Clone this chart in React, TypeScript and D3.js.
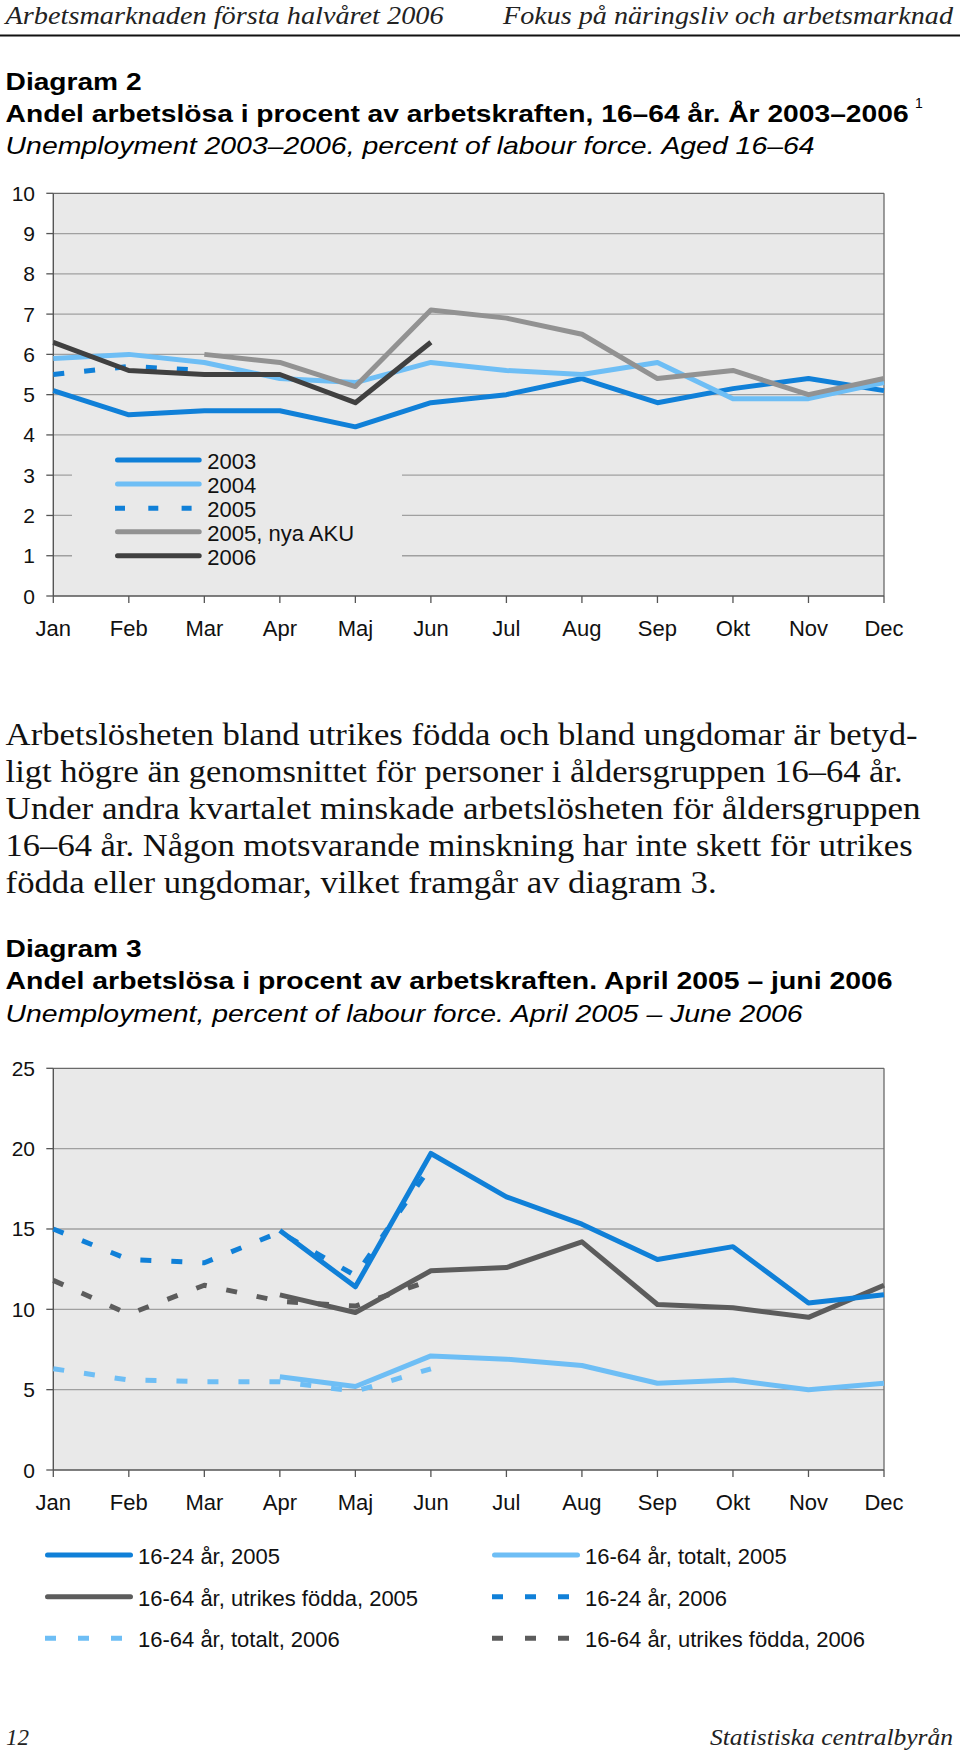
import React from "react";
import * as d3 from "d3";

// ---------- data ----------
const months = ["Jan", "Feb", "Mar", "Apr", "Maj", "Jun", "Jul", "Aug", "Sep", "Okt", "Nov", "Dec"];

// Diagram 2
const ticks1 = [0, 1, 2, 3, 4, 5, 6, 7, 8, 9, 10];
const y2003 = [5.1, 4.5, 4.6, 4.6, 4.2, 4.8, 5.0, 5.4, 4.8, 5.15, 5.4, 5.1];
const y2004 = [5.9, 6.0, 5.8, 5.4, 5.3, 5.8, 5.6, 5.5, 5.8, 4.9, 4.9, 5.3];
const y2005 = [5.5, 5.7, 5.6, null, null, null, null, null, null, null, null, null];
const y2005nya = [null, null, 6.0, 5.8, 5.2, 7.1, 6.9, 6.5, 5.4, 5.6, 5.0, 5.4];
const y2006 = [6.3, 5.6, 5.5, 5.5, 4.8, 6.3, null, null, null, null, null, null];
const legend1 = ["2003", "2004", "2005", "2005, nya AKU", "2006"];

// Diagram 3
const ticks2 = [0, 5, 10, 15, 20, 25];
const ung2005 = [null, null, null, 14.9, 11.4, 19.7, 17.0, 15.3, 13.1, 13.9, 10.4, 10.9];
const tot2005 = [null, null, null, 5.8, 5.2, 7.1, 6.9, 6.5, 5.4, 5.6, 5.0, 5.4];
const utr2005 = [null, null, null, 10.9, 9.8, 12.4, 12.6, 14.2, 10.3, 10.1, 9.5, 11.5];
const ung2006 = [15.0, 13.1, 12.9, 14.8, 12.1, 18.9, null, null, null, null, null, null];
const tot2006 = [6.3, 5.6, 5.5, 5.5, 4.9, 6.3, null, null, null, null, null, null];
const utr2006 = [11.8, 9.7, 11.5, 10.5, 10.2, 11.8, null, null, null, null, null, null];
const legend2Left = ["16-24 år, 2005", "16-64 år, utrikes födda, 2005", "16-64 år, totalt, 2006"];
const legend2Right = ["16-64 år, totalt, 2005", "16-24 år, 2006", "16-64 år, utrikes födda, 2006"];

const paragraph = [
  "Arbetslösheten bland utrikes födda och bland ungdomar är betyd-",
  "ligt högre än genomsnittet för personer i åldersgruppen 16–64 år.",
  "Under andra kvartalet minskade arbetslösheten för åldersgruppen",
  "16–64 år. Någon motsvarande minskning har inte skett för utrikes",
  "födda eller ungdomar, vilket framgår av diagram 3.",
];

// ---------- style ----------
const SANS = "'Liberation Sans', Arial, Helvetica, sans-serif";
const SERIF = "'Liberation Serif', 'Times New Roman', serif";
const BLUE = "#1080d8";
const LIGHT = "#6ebef5";
const GRAY = "#929292";
const DARK = "#404040";
const DGRAY = "#5c5c5c";
const BG = "#e9e9e9";
const DASH = "11 20";

type Series = { values: (number | null)[]; color: string; dash?: string };

const X0 = 53.3;
const X1 = 884;

function Chart(props: {
  top: number;
  bottom: number;
  max: number;
  ticks: number[];
  series: Series[];
  labelBaseline: number;
  mask?: { x: number; y: number; w: number; h: number };
}) {
  const { top, bottom, max, ticks, series, labelBaseline, mask } = props;
  const x = d3.scalePoint<string>().domain(months).range([X0, X1]);
  const y = d3.scaleLinear().domain([0, max]).range([bottom, top]);
  const line = d3
    .line<number | null>()
    .defined((d) => d != null)
    .x((_d, i) => x(months[i]) as number)
    .y((d) => y(d as number));
  return (
    <g>
      <rect x={X0} y={top} width={X1 - X0} height={bottom - top} fill={BG} />
      {ticks
        .filter((t) => t !== 0 && t !== max)
        .map((t) => (
          <line key={"g" + t} x1={X0} x2={X1} y1={y(t)} y2={y(t)} stroke="#a0a0a0" strokeWidth={1.3} />
        ))}
      {mask && <rect x={mask.x} y={mask.y} width={mask.w} height={mask.h} fill={BG} />}
      <line x1={X0} x2={X1} y1={top} y2={top} stroke="#6a6a6a" strokeWidth={1.3} />
      <line x1={X1} x2={X1} y1={top} y2={bottom} stroke="#6a6a6a" strokeWidth={1.3} />
      {ticks.map((t) => (
        <g key={"t" + t}>
          <line x1={X0 - 7} x2={X0} y1={y(t)} y2={y(t)} stroke="#555" strokeWidth={1.3} />
          <text x={35} y={y(t) + 7.5} textAnchor="end" fontFamily={SANS} fontSize={21} fill="#111">
            {t}
          </text>
        </g>
      ))}
      {months.map((m) => (
        <g key={m}>
          <line x1={x(m)} x2={x(m)} y1={bottom} y2={bottom + 7} stroke="#555" strokeWidth={1.3} />
          <text x={x(m)} y={labelBaseline} textAnchor="middle" fontFamily={SANS} fontSize={22} fill="#111">
            {m}
          </text>
        </g>
      ))}
      <line x1={X0} x2={X0} y1={top} y2={bottom} stroke="#555" strokeWidth={1.4} />
      <line x1={X0} x2={X1} y1={bottom} y2={bottom} stroke="#555" strokeWidth={1.4} />
      {series.map((s, i) => (
        <path
          key={"s" + i}
          d={line(s.values) || ""}
          fill="none"
          stroke={s.color}
          strokeWidth={5}
          strokeDasharray={s.dash}
          strokeLinejoin="round"
        />
      ))}
    </g>
  );
}

function LegendItem(props: { x1: number; x2: number; y: number; tx: number; color: string; dash?: boolean; label: string; dashArr: string }) {
  const { x1, x2, y, tx, color, dash, label, dashArr } = props;
  return (
    <g>
      {dash ? (
        <line x1={x1} x2={x2} y1={y} y2={y} stroke={color} strokeWidth={5} strokeDasharray={dashArr} />
      ) : (
        <line x1={x1 + 2.5} x2={x2 - 2.5} y1={y} y2={y} stroke={color} strokeWidth={5} strokeLinecap="round" />
      )}
      <text x={tx} y={y + 9} fontFamily={SANS} fontSize={22} fill="#111">
        {label}
      </text>
    </g>
  );
}

export default function App() {
  const series1: Series[] = [
    { values: y2003, color: BLUE },
    { values: y2004, color: LIGHT },
    { values: y2005, color: BLUE, dash: DASH },
    { values: y2005nya, color: GRAY },
    { values: y2006, color: DARK },
  ];
  const leg1Colors = [BLUE, LIGHT, BLUE, GRAY, DARK];
  const leg1Rows = [460, 484, 508.3, 531.7, 555.7];

  const series2: Series[] = [
    { values: tot2006, color: LIGHT, dash: DASH },
    { values: utr2006, color: DGRAY, dash: DASH },
    { values: ung2006, color: BLUE, dash: DASH },
    { values: tot2005, color: LIGHT },
    { values: utr2005, color: DGRAY },
    { values: ung2005, color: BLUE },
  ];
  const leg2Rows = [1555, 1596.7, 1638.3];
  const leg2LeftStyle = [
    { color: BLUE, dash: false },
    { color: DGRAY, dash: false },
    { color: LIGHT, dash: true },
  ];
  const leg2RightStyle = [
    { color: LIGHT, dash: false },
    { color: BLUE, dash: true },
    { color: DGRAY, dash: true },
  ];
  const paraLengths = [912, 897, 915, 907, 711];

  return (
    <svg
      width={960}
      height={1756}
      viewBox="0 0 960 1756"
      style={{ position: "absolute", left: 0, top: 0, background: "#fff" }}
    >
      <rect x={0} y={0} width={960} height={1756} fill="#fff" />
      {/* page header */}
      <text x={5.6} y={24.3} fontFamily={SERIF} fontStyle="italic" fontSize={26} textLength={438} lengthAdjust="spacingAndGlyphs" fill="#222">
        Arbetsmarknaden första halvåret 2006
      </text>
      <text x={953} y={24.3} textAnchor="end" fontFamily={SERIF} fontStyle="italic" fontSize={26} textLength={450} lengthAdjust="spacingAndGlyphs" fill="#222">
        Fokus på näringsliv och arbetsmarknad
      </text>
      <line x1={0} x2={960} y1={35.5} y2={35.5} stroke="#111" strokeWidth={2} />

      {/* Diagram 2 titles */}
      <text x={5.6} y={90} fontFamily={SANS} fontWeight="bold" fontSize={24} textLength={136} lengthAdjust="spacingAndGlyphs" fill="#000">
        Diagram 2
      </text>
      <text x={5.6} y={121.7} fontFamily={SANS} fontWeight="bold" fontSize={24} textLength={903} lengthAdjust="spacingAndGlyphs" fill="#000">
        Andel arbetslösa i procent av arbetskraften, 16–64 år. År 2003–2006
      </text>
      <text x={915} y={108} fontFamily={SANS} fontSize={14} fill="#000">
        1
      </text>
      <text x={5.6} y={154} fontFamily={SANS} fontStyle="italic" fontSize={24} textLength={809} lengthAdjust="spacingAndGlyphs" fill="#000">
        Unemployment 2003–2006, percent of labour force. Aged 16–64
      </text>

      <Chart
        top={193.3}
        bottom={596}
        max={10}
        ticks={ticks1}
        series={series1}
        labelBaseline={636}
        mask={{ x: 72, y: 442, w: 330, h: 130 }}
      />
      {legend1.map((l, i) => (
        <LegendItem
          key={l}
          x1={115}
          x2={201.7}
          y={leg1Rows[i]}
          tx={207.3}
          color={leg1Colors[i]}
          dash={i === 2}
          dashArr="10 23.3"
          label={l}
        />
      ))}

      {/* paragraph */}
      {paragraph.map((p, i) => (
        <text
          key={i}
          x={5.6}
          y={745 + i * 36.9}
          fontFamily={SERIF}
          fontSize={31}
          fill="#111"
          textLength={paraLengths[i]}
          lengthAdjust="spacingAndGlyphs"
        >
          {p}
        </text>
      ))}

      {/* Diagram 3 titles */}
      <text x={5.6} y={956.7} fontFamily={SANS} fontWeight="bold" fontSize={24} textLength={136} lengthAdjust="spacingAndGlyphs" fill="#000">
        Diagram 3
      </text>
      <text x={5.6} y={989} fontFamily={SANS} fontWeight="bold" fontSize={24} textLength={887} lengthAdjust="spacingAndGlyphs" fill="#000">
        Andel arbetslösa i procent av arbetskraften. April 2005 – juni 2006
      </text>
      <text x={5.6} y={1021.7} fontFamily={SANS} fontStyle="italic" fontSize={24} textLength={797} lengthAdjust="spacingAndGlyphs" fill="#000">
        Unemployment, percent of labour force. April 2005 – June 2006
      </text>

      <Chart top={1068.3} bottom={1470} max={25} ticks={ticks2} series={series2} labelBaseline={1510} />

      {legend2Left.map((l, i) => (
        <LegendItem
          key={l}
          x1={45}
          x2={133}
          y={leg2Rows[i]}
          tx={138}
          color={leg2LeftStyle[i].color}
          dash={leg2LeftStyle[i].dash}
          dashArr="11 22"
          label={l}
        />
      ))}
      {legend2Right.map((l, i) => (
        <LegendItem
          key={l}
          x1={492}
          x2={580}
          y={leg2Rows[i]}
          tx={585}
          color={leg2RightStyle[i].color}
          dash={leg2RightStyle[i].dash}
          dashArr="11 22"
          label={l}
        />
      ))}

      {/* footer */}
      <text x={6} y={1745} fontFamily={SERIF} fontStyle="italic" fontSize={23} fill="#222">
        12
      </text>
      <text x={953} y={1745} textAnchor="end" fontFamily={SERIF} fontStyle="italic" fontSize={23} textLength={243} lengthAdjust="spacingAndGlyphs" fill="#222">
        Statistiska centralbyrån
      </text>
    </svg>
  );
}
